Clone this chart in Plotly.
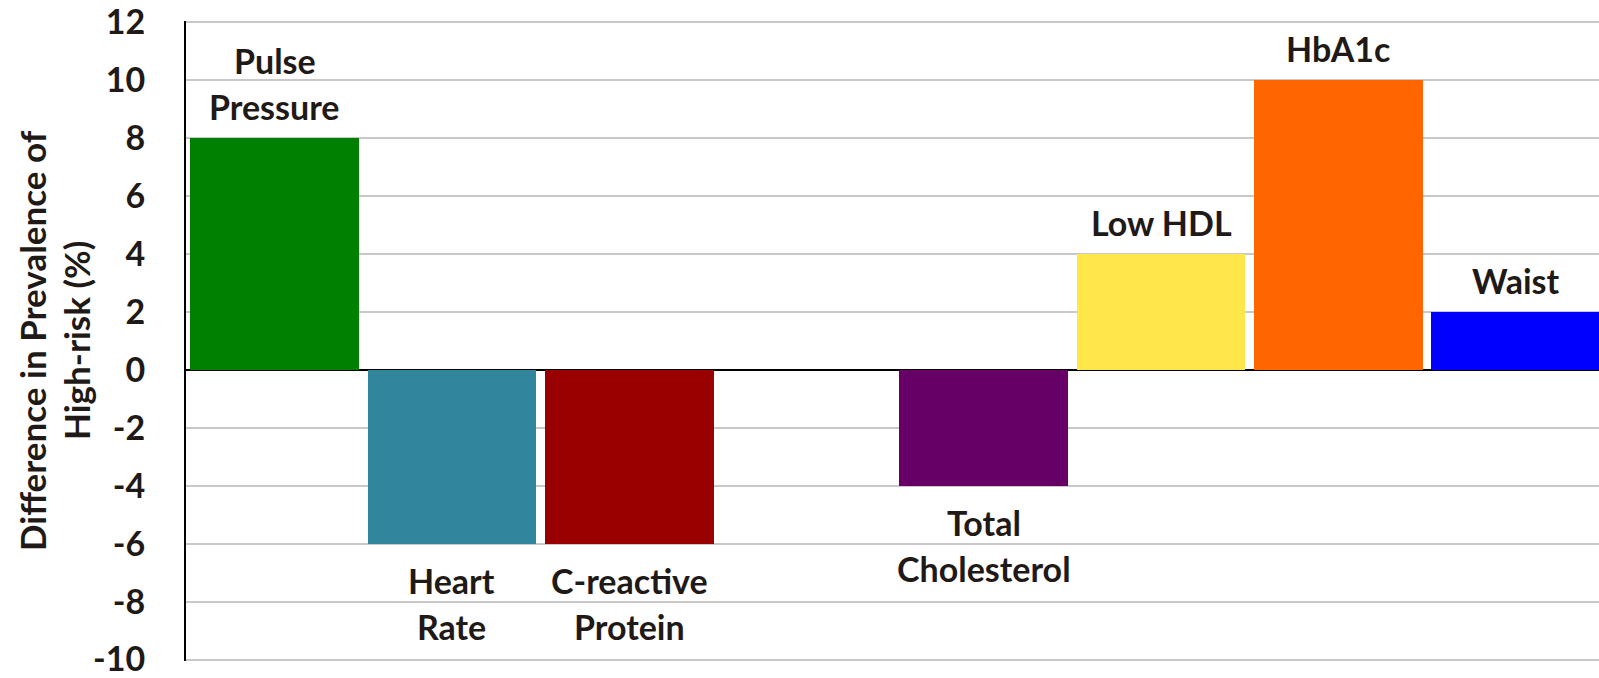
import plotly.graph_objects as go

# Change in prevalence of high-risk values, by biomarker
labels = ["Pulse<br>Pressure", "Heart<br>Rate", "C-reactive<br>Protein", "",
          "Total<br>Cholesterol", "Low HDL", "HbA1c", "Waist"]
values = [8, -6, -6, 0, -4, 4, 10, 2]
colors = ["#008000", "#31859C", "#990000", "#FFFFFF",
          "#660066", "#FFE64A", "#FF6600", "#0000FF"]
y_ticks = [12, 10, 8, 6, 4, 2, 0, -2, -4, -6, -8, -10]
title_lines = ["Difference in Prevalence of", "High-risk (%)"]

FONT = "Lato"
TEXT = "#1f1a17"
LABEL_SIZE = 34
LINE_STEP = 46      # px between stacked label lines
POS_GAP = 32        # px from bar top to centre of nearest line
NEG_GAP = 37        # px from bar bottom to centre of nearest line

positions = list(range(len(values)))

fig = go.Figure()
fig.add_trace(go.Bar(
    x=positions, y=values,
    marker=dict(color=colors, line=dict(width=0)),
    width=0.952,
    hoverinfo="skip",
))

# Category names sit just outside the end of each bar, one annotation per line
for pos, lab, val in zip(positions, labels, values):
    if not lab:
        continue
    lines = lab.split("<br>")
    if val >= 0:
        shifts = [POS_GAP + (len(lines) - 1 - i) * LINE_STEP for i in range(len(lines))]
    else:
        shifts = [-(NEG_GAP + i * LINE_STEP) for i in range(len(lines))]
    for line, shift in zip(lines, shifts):
        fig.add_annotation(
            x=pos, y=val, xref="x", yref="y", text=line, showarrow=False,
            xanchor="center", yanchor="middle", yshift=shift,
            font=dict(family=FONT, size=LABEL_SIZE, color=TEXT, weight="bold"),
        )

# Vertical axis title, two lines
for line, shift in zip(title_lines, [-154, -110]):
    fig.add_annotation(
        x=0, y=0.5, xref="paper", yref="paper", text=line,
        textangle=-90, showarrow=False, xanchor="center", yanchor="middle",
        xshift=shift,
        font=dict(family=FONT, size=35, color=TEXT, weight="bold"),
    )

fig.update_layout(
    width=1599, height=678,
    margin=dict(l=186, r=0, t=20, b=14),
    paper_bgcolor="white", plot_bgcolor="white",
    showlegend=False,
    bargap=0,
    xaxis=dict(
        range=[-0.5, 7.47], showticklabels=False, showgrid=False,
        zeroline=False, showline=False, fixedrange=True,
    ),
    yaxis=dict(
        range=[-10.05, 12.05], tickvals=y_ticks, ticktext=[str(v) for v in y_ticks],
        showgrid=True, gridcolor="#c8c8c8", gridwidth=1.5,
        zeroline=True, zerolinecolor="#000000", zerolinewidth=2,
        showline=True, linecolor="#000000", linewidth=2,
        ticks="", ticklabelstandoff=32, ticklabeloverflow="allow",
        tickfont=dict(family=FONT, size=34, color=TEXT, weight="bold"),
        fixedrange=True,
    ),
)

fig.write_html("out.html")
